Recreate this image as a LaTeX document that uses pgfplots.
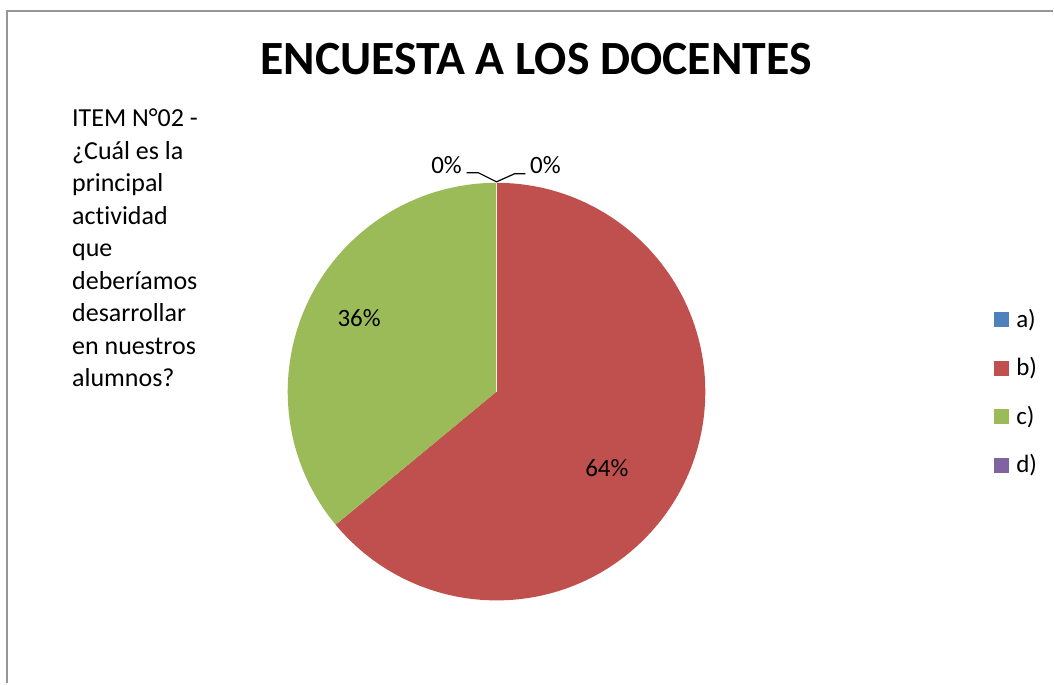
\documentclass[border=0pt]{standalone}
\usepackage{pgfplots}
\pgfplotsset{compat=1.18}
\usepackage{pgfplotstable}
\usepackage{fontspec}
\setmainfont{Carlito}[Ligatures=NoCommon]
\definecolor{ca}{HTML}{4F81BD}
\definecolor{cb}{HTML}{C0504D}
\definecolor{cc}{HTML}{9BBB59}
\definecolor{cd}{HTML}{8064A2}
\definecolor{frame}{RGB}{150,150,150}

\pgfplotstableread{
cat val
a 0
b 64
c 36
d 0
}\piedata

% angles (clockwise from 12 o'clock)
\pgfplotstablegetelem{0}{val}\of\piedata \edef\va{\pgfplotsretval}
\pgfplotstablegetelem{1}{val}\of\piedata \edef\vb{\pgfplotsretval}
\pgfplotstablegetelem{2}{val}\of\piedata \edef\vc{\pgfplotsretval}
\pgfplotstablegetelem{3}{val}\of\piedata \edef\vd{\pgfplotsretval}
\pgfmathsetmacro\aA{90-3.6*\va}
\pgfmathsetmacro\aB{\aA-3.6*\vb}
\pgfmathsetmacro\aC{\aB-3.6*\vc}
\pgfmathsetmacro\aD{\aC-3.6*\vd}
\def\R{156.75pt}

\begin{document}
\begin{tikzpicture}
\begin{axis}[
  width=790.5pt, height=513pt, scale only axis,
  xmin=0, xmax=1054, ymin=0, ymax=684, y dir=reverse,
  hide axis, clip=false,
]
\fill[white] (axis cs:0,0) rectangle (axis cs:1054,684);
\draw[frame, line width=1.6pt] (axis cs:7.2,684) -- (axis cs:7.2,11.2) -- (axis cs:1054,11.2);

% title
\node[anchor=base, inner sep=0pt, font=\fontsize{35.8}{42}\selectfont\bfseries] at (axis cs:536.5,75) {ENCUESTA A LOS DOCENTES};

% left text
\begin{scope}[every node/.style={anchor=base west, inner sep=0pt, font=\fontsize{19.5}{24}\selectfont}]
\node at (axis cs:72,127) {ITEM N°02 -};
\node at (axis cs:72,159.5) {¿Cuál es la};
\node at (axis cs:72,192) {principal};
\node at (axis cs:72,224.5) {actividad};
\node at (axis cs:72,257) {que};
\node at (axis cs:72,289.5) {deberíamos};
\node at (axis cs:72,322) {desarrollar};
\node at (axis cs:72,354.5) {en nuestros};
\node at (axis cs:72,387) {alumnos?};
\end{scope}

% pie slices
\fill[cb] (axis cs:497,392) -- ++(\aA:\R) arc[start angle=\aA, end angle=\aB, radius=\R] -- cycle;
\fill[cc] (axis cs:497,392) -- ++(\aB:\R) arc[start angle=\aB, end angle=\aC, radius=\R] -- cycle;
\draw[white!85!cc, line width=0.5pt] (axis cs:497,392) -- ++(90:\R);

% data labels
\begin{scope}[every node/.style={anchor=base, inner sep=0pt, font=\fontsize{18.75}{22}\selectfont}]
\node at (axis cs:359.5,327) {\vc\%};
\node at (axis cs:607.5,477) {\vb\%};
\node at (axis cs:447,174) {\vd\%};
\node at (axis cs:546,174) {\va\%};
\end{scope}
\draw[black, line width=0.9pt] (axis cs:467,173) -- (axis cs:479,173) -- (axis cs:497,182) -- (axis cs:515,174) -- (axis cs:526,174);

% legend
\begin{scope}[every node/.style={anchor=base west, inner sep=0pt, font=\fontsize{18.75}{22}\selectfont}]
\fill[ca] (axis cs:995,312.7) rectangle (axis cs:1010.5,327.7);
\node at (axis cs:1017,327.7) {a)};
\fill[cb] (axis cs:995,361.2) rectangle (axis cs:1010.5,376.2);
\node at (axis cs:1017,376.2) {b)};
\fill[cc] (axis cs:995,409.7) rectangle (axis cs:1010.5,424.7);
\node at (axis cs:1017,424.7) {c)};
\fill[cd] (axis cs:995,458.2) rectangle (axis cs:1010.5,473.2);
\node at (axis cs:1017,473.2) {d)};
\end{scope}
\end{axis}
\end{tikzpicture}
\end{document}
